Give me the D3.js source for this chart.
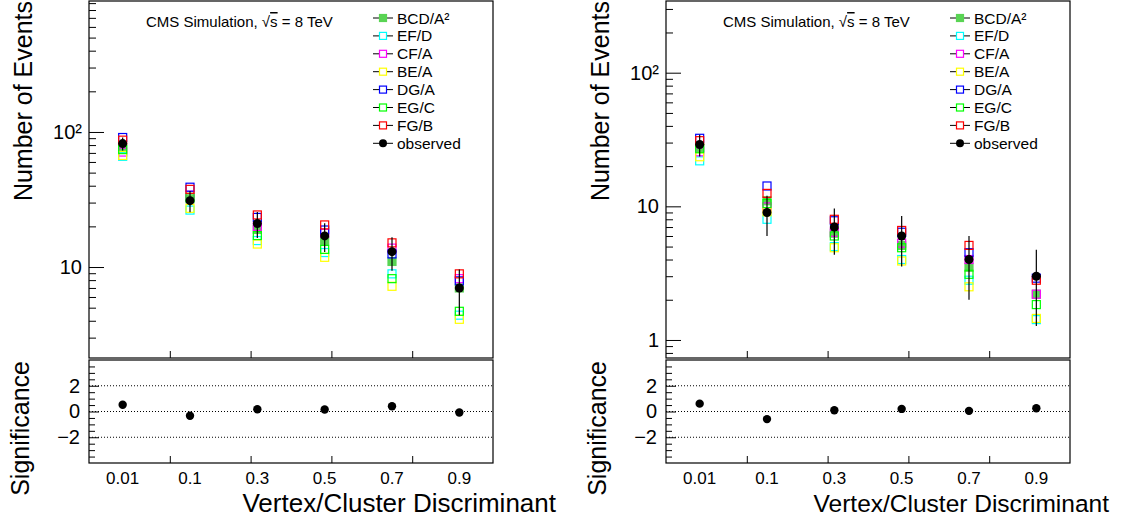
<!DOCTYPE html>
<html>
<head>
<meta charset="utf-8">
<script src="https://cdn.jsdelivr.net/npm/d3@7"></script>
<style>
  body { margin: 0; background: #fff; }
  text { font-family: "Liberation Sans", Arial, Helvetica, sans-serif; }
</style>
</head>
<body>
<svg id="chart" width="1122" height="523"></svg>
<script>
// bins of the discriminant and the prediction methods
var bins = ["0.01", "0.1", "0.3", "0.5", "0.7", "0.9"];
var methods = ["BCD/A²", "EF/D", "CF/A", "BE/A", "DG/A", "EG/C", "FG/B"];
var methodColors = ["#59d454", "#00ffff", "#ff00ff", "#ffff00", "#0000ff", "#00ff00", "#ff0000"];
var methodFilled = [true, false, false, false, false, false, false];

// left plot
var leftPred = [
  [76, 32, 19, 15.6, 11.0, 7.0],     // BCD/A2
  [66, 26.4, 15.7, 12.8, 8.9, 4.4],  // EF/D
  [71, 34, 20, 17.8, 13.8, 8.2],     // CF/A
  [67, 27.2, 14.8, 11.8, 7.2, 4.1],  // BE/A
  [91, 39, 23.3, 18.8, 12.5, 7.9],   // DG/A
  [74, 32.8, 17.1, 13.5, 8.2, 4.7],  // EG/C
  [87, 37.6, 24.3, 20.5, 15.1, 8.9]  // FG/B
];
var leftObs = [82, 31, 21, 17, 13, 7];
var leftObsErr = [9.1, 5.6, 4.6, 4.1, 3.6, 2.6];
var leftSig = [0.53, -0.33, 0.18, 0.15, 0.41, -0.08];

// right plot
var rightPred = [
  [27.6, 11.0, 6.3, 5.1, 3.5, 2.2],
  [21.9, 8.0, 5.0, 4.0, 2.8, 1.42],
  [25.6, 9.9, 6.4, 5.3, 4.0, 2.2],
  [23.5, 9.1, 4.9, 3.9, 2.5, 1.45],
  [32.3, 14.2, 7.8, 6.4, 4.5, 2.9],
  [27.0, 10.5, 6.0, 4.9, 3.1, 1.84],
  [31.0, 12.5, 8.0, 6.6, 5.1, 2.8]
];
var rightObs = [29, 9, 7, 6, 4, 3];
var rightObsErr = [5.4, 3.0, 2.65, 2.45, 2.0, 1.73];
var rightSig = [0.61, -0.59, 0.1, 0.2, 0.05, 0.25];

var svg = d3.select("#chart");

function drawPanel(opt) {
  var g = svg.append("g");
  var top = 1, mid = 358, lowTop = 360, bottom = 463;

  var x = d3.scaleLinear().domain([0, 1]).range([opt.x0, opt.x1]);
  var xc = function (i) { return x((i + 0.5) / bins.length); };
  var y = d3.scaleLog().domain(opt.yDomain).range([mid, top]);
  var ys = d3.scaleLinear().domain([-4, 4]).range([bottom, lowTop]);

  // ---- upper pad: y axis, majors and minors
  var lo = Math.floor(Math.log10(opt.yDomain[0])), hi = Math.ceil(Math.log10(opt.yDomain[1]));
  var majors = [], minors = [];
  for (var p = lo; p <= hi; p++) {
    var base = Math.pow(10, p);
    if (base >= opt.yDomain[0] && base <= opt.yDomain[1]) majors.push(base);
    for (var m = 2; m <= 9; m++) {
      var v = m * base;
      if (v >= opt.yDomain[0] && v <= opt.yDomain[1]) minors.push(v);
    }
  }
  var fmt = function (d) {
    if (d === 1) return "1";
    if (d === 10) return "10";
    return "10" + ["", "", "²", "³"][Math.round(Math.log10(d))];
  };

  g.append("g")
    .attr("transform", "translate(" + opt.x0 + ",0)")
    .call(d3.axisLeft(y).tickValues(minors).tickSize(-7).tickFormat(""))
    .call(function (a) { a.select(".domain").remove(); });

  var yAx = g.append("g")
    .attr("transform", "translate(" + opt.x0 + ",0)")
    .call(d3.axisLeft(y).tickValues(majors).tickSize(-15).tickPadding(7).tickFormat(fmt));
  yAx.select(".domain").remove();
  yAx.selectAll("text").attr("font-size", 20).attr("font-family", "Liberation Sans, Arial, sans-serif");

  // x ticks on upper pad
  g.append("g")
    .attr("transform", "translate(0," + mid + ")")
    .call(d3.axisBottom(x).tickValues([0.2, 0.4, 0.6, 0.8]).tickSize(-7).tickFormat(""))
    .call(function (a) { a.select(".domain").remove(); });

  // frame
  g.append("rect")
    .attr("x", opt.x0).attr("y", top)
    .attr("width", opt.x1 - opt.x0).attr("height", mid - top)
    .attr("fill", "none").attr("stroke", "#000").attr("stroke-width", 1.2);

  // y title
  g.append("text")
    .attr("transform", "translate(" + (opt.x0 - 57) + ",1) rotate(-90)")
    .attr("text-anchor", "end")
    .attr("font-size", 25)
    .text("Number of Events");

  // CMS label
  var cms = g.append("text")
    .attr("x", opt.x0 + 57).attr("y", 27)
    .attr("font-size", 15);
  cms.append("tspan").text("CMS Simulation, √");
  cms.append("tspan").style("text-decoration", "overline").text("s");
  cms.append("tspan").text(" = 8 TeV");

  // predictions
  methods.forEach(function (name, k) {
    g.append("g").selectAll("rect")
      .data(opt.pred[k])
      .join("rect")
      .attr("x", function (d, i) { return xc(i) - 4; })
      .attr("y", function (d) { return y(d) - 4; })
      .attr("width", 8).attr("height", 8)
      .attr("fill", methodFilled[k] ? methodColors[k] : "none")
      .attr("stroke", methodColors[k])
      .attr("stroke-width", 1.2);
  });

  // observed with error bars
  g.append("g").selectAll("line")
    .data(opt.obs)
    .join("line")
    .attr("x1", function (d, i) { return xc(i); })
    .attr("x2", function (d, i) { return xc(i); })
    .attr("y1", function (d, i) { return y(d - opt.err[i]); })
    .attr("y2", function (d, i) { return y(d + opt.err[i]); })
    .attr("stroke", "#000").attr("stroke-width", 1.2);
  g.append("g").selectAll("circle")
    .data(opt.obs)
    .join("circle")
    .attr("cx", function (d, i) { return xc(i); })
    .attr("cy", function (d) { return y(d); })
    .attr("r", 4.5).attr("fill", "#000");

  // legend
  var legNames = methods.concat(["observed"]);
  var leg = g.append("g").selectAll("g")
    .data(legNames)
    .join("g")
    .attr("transform", function (d, i) {
      return "translate(" + (opt.x1 - 110) + "," + (18 + i * 17.9) + ")";
    });
  leg.append("line")
    .attr("x1", -10).attr("x2", 10)
    .attr("stroke", "#000").attr("stroke-width", 1);
  leg.each(function (d, i) {
    var s = d3.select(this);
    if (i < methods.length) {
      s.append("rect")
        .attr("x", -3.5).attr("y", -3.5).attr("width", 7).attr("height", 7)
        .attr("fill", methodFilled[i] ? methodColors[i] : "#fff")
        .attr("stroke", methodColors[i]).attr("stroke-width", 1.2);
    } else {
      s.append("circle").attr("r", 4).attr("fill", "#000");
    }
  });
  leg.append("text")
    .attr("x", 14).attr("dy", "0.36em")
    .attr("font-size", 15.5)
    .text(function (d) { return d; });

  // ---- lower pad: significance
  [-2, 0, 2].forEach(function (v) {
    g.append("line")
      .attr("x1", opt.x0).attr("x2", opt.x1)
      .attr("y1", ys(v)).attr("y2", ys(v))
      .attr("stroke", "#000").attr("stroke-width", 1)
      .attr("stroke-dasharray", "1,2");
  });

  g.append("g")
    .attr("transform", "translate(" + opt.x0 + ",0)")
    .call(d3.axisLeft(ys).tickValues(d3.range(-3.5, 4, 0.5).filter(function (v) { return v % 2 !== 0; }))
      .tickSize(-6).tickFormat(""))
    .call(function (a) { a.select(".domain").remove(); });

  var sAx = g.append("g")
    .attr("transform", "translate(" + opt.x0 + ",0)")
    .call(d3.axisLeft(ys).tickValues([-2, 0, 2]).tickSize(-10).tickPadding(9).tickFormat(d3.format("d")));
  sAx.select(".domain").remove();
  sAx.selectAll("text").attr("font-size", 20).attr("font-family", "Liberation Sans, Arial, sans-serif");

  g.append("g")
    .attr("transform", "translate(0," + bottom + ")")
    .call(d3.axisBottom(x).tickValues([0.2, 0.4, 0.6, 0.8]).tickSize(-7).tickFormat(""))
    .call(function (a) { a.select(".domain").remove(); });

  g.append("rect")
    .attr("x", opt.x0).attr("y", lowTop)
    .attr("width", opt.x1 - opt.x0).attr("height", bottom - lowTop)
    .attr("fill", "none").attr("stroke", "#000").attr("stroke-width", 1.2);

  g.append("g").selectAll("circle")
    .data(opt.sig)
    .join("circle")
    .attr("cx", function (d, i) { return xc(i); })
    .attr("cy", function (d) { return ys(d); })
    .attr("r", 4.2).attr("fill", "#000");

  // bin labels
  g.append("g").selectAll("text")
    .data(bins)
    .join("text")
    .attr("x", function (d, i) { return xc(i); })
    .attr("y", 484)
    .attr("text-anchor", "middle")
    .attr("font-size", 17)
    .text(function (d) { return d; });

  g.append("text")
    .attr("transform", "translate(" + (opt.x0 - 60) + "," + (lowTop + 1) + ") rotate(-90)")
    .attr("text-anchor", "end")
    .attr("font-size", 25)
    .text("Significance");

  g.append("text")
    .attr("x", opt.titleEnd).attr("y", 512)
    .attr("text-anchor", "end")
    .attr("font-size", opt.titleSize)
    .text("Vertex/Cluster Discriminant");
}

drawPanel({ x0: 89, x1: 493, yDomain: [2.12, 933], pred: leftPred, obs: leftObs, err: leftObsErr, sig: leftSig, titleEnd: 556, titleSize: 26 });
drawPanel({ x0: 666, x1: 1070, yDomain: [0.733, 344], pred: rightPred, obs: rightObs, err: rightObsErr, sig: rightSig, titleEnd: 1109, titleSize: 24.5 });
</script>
</body>
</html>
